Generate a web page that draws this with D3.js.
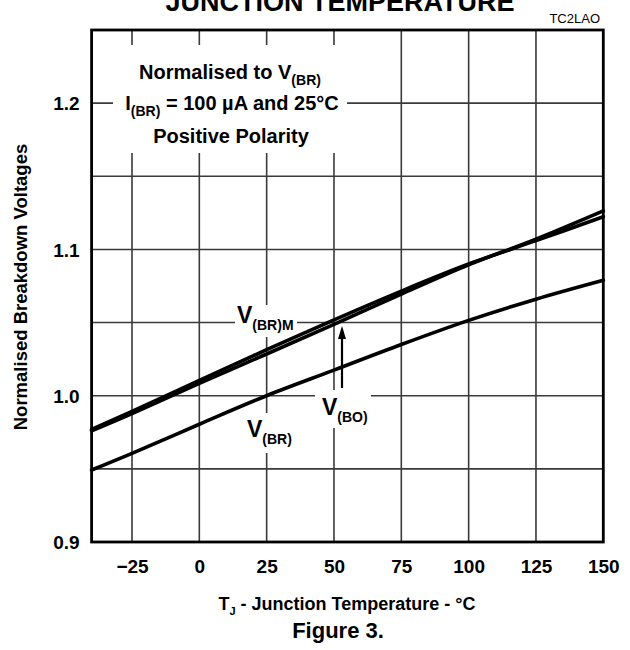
<!DOCTYPE html>
<html><head><meta charset="utf-8">
<script src="https://cdn.jsdelivr.net/npm/d3@7"></script>
<style>body{margin:0;background:#fff}svg{display:block;font-family:"Liberation Sans",Arial,sans-serif}</style>
</head><body><svg id="c" width="630" height="650"></svg>
<script>
const temps = [-40, -25, 0, 25, 50, 75, 100, 125, 150];
const vbrm  = [0.9770, 0.9893, 1.0105, 1.0315, 1.0518, 1.0715, 1.0900, 1.1060, 1.1223];
const vbo   = [0.9760, 0.9878, 1.0085, 1.0285, 1.0488, 1.0695, 1.0895, 1.1070, 1.1263];
const vbr   = [0.9492, 0.9606, 0.9805, 1.0000, 1.0175, 1.0350, 1.0515, 1.0660, 1.0789];
const xTicks = [-25, 0, 25, 50, 75, 100, 125, 150];
const yTicks = [0.9, 1.0, 1.1, 1.2];
const yGrid = [0.95, 1.0, 1.05, 1.1, 1.15, 1.2];

const svg = d3.select("#c");
const L = 91.6, R = 603.3, T = 30, B = 542;
const x = d3.scaleLinear().domain([-40, 150]).range([L, R]);
const y = d3.scaleLinear().domain([0.9, 1.25]).range([B, T]);
const FONT = "Liberation Sans, Arial, sans-serif";

// grid
const g = svg.append("g");
g.selectAll("line.v").data(xTicks.filter(d => d < 150)).join("line")
  .attr("x1", d => x(d)).attr("x2", d => x(d)).attr("y1", T).attr("y2", B)
  .attr("stroke", "#3a3a3a").attr("stroke-width", 1.6);
g.selectAll("line.h").data(yGrid).join("line")
  .attr("y1", d => y(d)).attr("y2", d => y(d)).attr("x1", L).attr("x2", R)
  .attr("stroke", "#3a3a3a").attr("stroke-width", 1.6);

// white masks behind annotations
const masks = [[113, 45, 234, 108], [235, 305, 62, 32], [315, 390, 56, 38], [245, 413, 48, 40]];
svg.selectAll("rect.m").data(masks).join("rect")
  .attr("x", d => d[0]).attr("y", d => d[1]).attr("width", d => d[2]).attr("height", d => d[3])
  .attr("fill", "#fff");

// curves
const line = d3.line().x(d => x(d[0])).y(d => y(d[1])).curve(d3.curveCatmullRom.alpha(0.5));
[vbrm, vbo, vbr].forEach(s => {
  svg.append("path").datum(temps.map((t, i) => [t, s[i]])).attr("d", line)
    .attr("fill", "none").attr("stroke", "#000").attr("stroke-width", 3.6).attr("stroke-linecap", "round");
});

// frame
svg.append("rect").attr("x", L).attr("y", T).attr("width", R - L).attr("height", B - T)
  .attr("fill", "none").attr("stroke", "#000").attr("stroke-width", 2.8);

// tick labels
const ya = d3.axisLeft(y).tickValues(yTicks).tickFormat(d3.format(".1f")).tickSize(0).tickPadding(12);
const yg = svg.append("g").attr("transform", `translate(${L},0)`).call(ya);
yg.select(".domain").remove();
yg.selectAll("text").attr("font-size", 19).attr("font-weight", "bold").attr("fill", "#000")
  .attr("font-family", FONT).attr("dy", "0.36em");
const xa = d3.axisBottom(x).tickValues(xTicks).tickFormat(d3.format("d")).tickSize(0).tickPadding(18);
const xg = svg.append("g").attr("transform", `translate(0,${B})`).call(xa);
xg.select(".domain").remove();
xg.selectAll("text").attr("font-size", 19).attr("font-weight", "bold").attr("fill", "#000")
  .attr("font-family", FONT);

function sub(t, base, subtxt, rest, bs, ss, dy) {
  t.append("tspan").text(base).attr("font-size", bs);
  t.append("tspan").text(subtxt).attr("font-size", ss).attr("dy", dy);
  if (rest) t.append("tspan").text(rest).attr("font-size", bs).attr("dy", -dy);
}

// Y label
svg.append("text").attr("transform", "translate(27,287) rotate(-90)").attr("text-anchor", "middle")
  .attr("font-weight", "bold").attr("font-size", 18.5).text("Normalised Breakdown Voltages");

// X title
const xt = svg.append("text").attr("x", 347).attr("y", 610).attr("text-anchor", "middle").attr("font-weight", "bold");
sub(xt, "T", "J", " - Junction Temperature - °C", 18, 11, 5);
svg.append("text").attr("x", 338).attr("y", 638).attr("text-anchor", "middle").attr("font-weight", "bold")
  .attr("font-size", 22).text("Figure 3.");

// Title (cut off at top edge in the reference)
svg.append("text").attr("x", 340).attr("y", 11).attr("text-anchor", "middle").attr("font-weight", "bold")
  .attr("font-size", 27).text("JUNCTION TEMPERATURE");
svg.append("text").attr("x", 600).attr("y", 23).attr("text-anchor", "end").attr("font-size", 13).text("TC2LAO");

// legend
const l1 = svg.append("text").attr("x", 230).attr("y", 79).attr("text-anchor", "middle").attr("font-weight", "bold");
sub(l1, "Normalised to V", "(BR)", null, 20, 14, 6);
const l2 = svg.append("text").attr("x", 232).attr("y", 110).attr("text-anchor", "middle").attr("font-weight", "bold");
sub(l2, "I", "(BR)", " = 100 µA and 25°C", 20, 14, 6);
svg.append("text").attr("x", 231).attr("y", 143).attr("text-anchor", "middle").attr("font-weight", "bold")
  .attr("font-size", 20).text("Positive Polarity");

// curve labels
const a1 = svg.append("text").attr("x", 237).attr("y", 323).attr("font-weight", "bold");
sub(a1, "V", "(BR)M", null, 23, 14, 7);
const a2 = svg.append("text").attr("x", 322).attr("y", 415).attr("font-weight", "bold");
sub(a2, "V", "(BO)", null, 23, 14, 7);
const a3 = svg.append("text").attr("x", 247).attr("y", 437).attr("font-weight", "bold");
sub(a3, "V", "(BR)", null, 23, 14, 7);

// arrow
svg.append("line").attr("x1", 342).attr("x2", 342).attr("y1", 388).attr("y2", 336)
  .attr("stroke", "#000").attr("stroke-width", 2.2);
svg.append("path").attr("d", "M342,326 L338,339 L346,339 Z").attr("fill", "#000");
</script></body></html>
